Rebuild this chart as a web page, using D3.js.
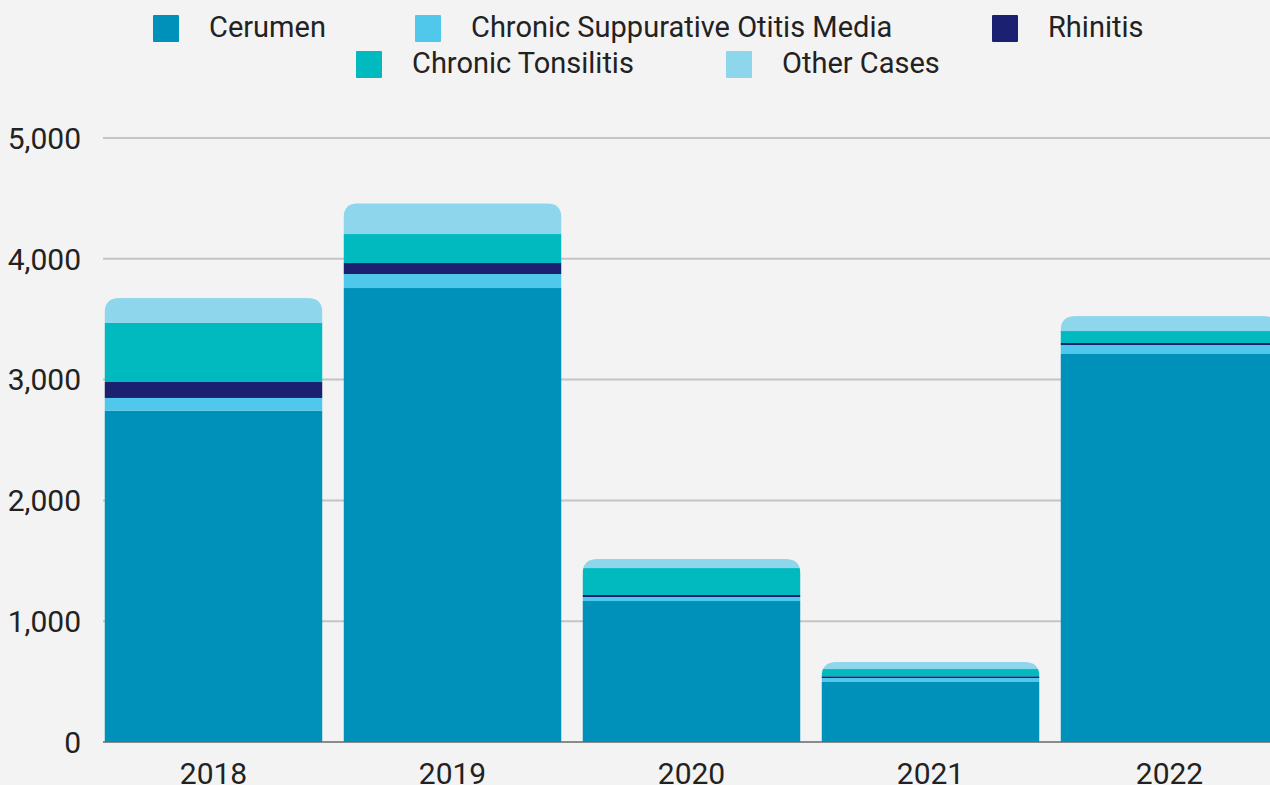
<!DOCTYPE html>
<html>
<head>
<meta charset="utf-8">
<script src="https://cdn.jsdelivr.net/npm/d3@7"></script>
<style>
  html, body { margin: 0; padding: 0; background: #f3f3f3; }
  svg { display: block; font-family: Roboto, "Noto Sans", sans-serif; }
</style>
</head>
<body>
<div id="chart"></div>
<script>
const width = 1270;
const height = 785;

// data
const years = ['2018', '2019', '2020', '2021', '2022'];
const seriesNames = ['Cerumen', 'Chronic Suppurative Otitis Media', 'Rhinitis', 'Chronic Tonsilitis', 'Other Cases'];
const cerumen = [2743, 3758, 1167, 497, 3212];
const csom = [105, 116, 33, 33, 74];
const rhinitis = [132, 91, 17, 14, 17];
const tonsilitis = [489, 240, 223, 60, 99];
const otherCases = [206, 254, 75, 58, 124];
const yTicks = [0, 1000, 2000, 3000, 4000, 5000];

const colors = ['#0091ba', '#50c8ec', '#1b2070', '#00bac0', '#8dd6ec'];

const allSeries = [cerumen, csom, rhinitis, tonsilitis, otherCases];
const table = years.map(function(y, i) {
  var row = { year: y };
  seriesNames.forEach(function(s, j) { row[s] = allSeries[j][i]; });
  return row;
});

const svg = d3.select('#chart').append('svg')
  .attr('width', width)
  .attr('height', height);

svg.append('rect').attr('width', width).attr('height', height).attr('fill', '#f3f3f3');

const x = d3.scaleBand()
  .domain(years)
  .range([94, 1289])
  .paddingInner(0.088)
  .paddingOuter(0.044);

const y = d3.scaleLinear()
  .domain([0, 5000])
  .range([742, 138]);

// gridlines
svg.append('g')
  .selectAll('line')
  .data(yTicks)
  .enter()
  .append('line')
  .attr('x1', 103)
  .attr('x2', width)
  .attr('y1', d => y(d))
  .attr('y2', d => y(d))
  .attr('stroke', d => d === 0 ? '#8a8a8a' : '#c4c4c4')
  .attr('stroke-width', 2);

// y labels
svg.append('g')
  .selectAll('text')
  .data(yTicks)
  .enter()
  .append('text')
  .attr('x', 81)
  .attr('y', d => y(d))
  .attr('dy', '0.36em')
  .attr('text-anchor', 'end')
  .attr('font-size', 30)
  .attr('fill', '#222')
  .text(d => d3.format(',')(d));

// x labels (cut at the bottom edge like the original)
svg.append('g')
  .selectAll('text')
  .data(years)
  .enter()
  .append('text')
  .attr('x', d => x(d) + x.bandwidth() / 2)
  .attr('y', 784)
  .attr('text-anchor', 'middle')
  .attr('font-size', 30)
  .attr('fill', '#222')
  .text(d => d);

const stacked = d3.stack().keys(seriesNames)(table);
const totals = table.map(r => d3.sum(seriesNames, s => r[s]));

// rounded top clip for each bar
const r = 15;
const defs = svg.append('defs');
years.forEach(function(yr, i) {
  var x0 = x(yr), w = x.bandwidth(), top = y(totals[i]), bot = y(0) + 1;
  defs.append('clipPath').attr('id', 'clip' + i)
    .append('path')
    .attr('d', 'M' + x0 + ',' + bot +
      'V' + (top + r) +
      'Q' + x0 + ',' + top + ' ' + (x0 + r) + ',' + top +
      'H' + (x0 + w - r) +
      'Q' + (x0 + w) + ',' + top + ' ' + (x0 + w) + ',' + (top + r) +
      'V' + bot + 'Z');
});

const bars = svg.append('g')
  .selectAll('g')
  .data(years)
  .enter()
  .append('g')
  .attr('clip-path', (d, i) => 'url(#clip' + i + ')');

bars.each(function(yr, i) {
  d3.select(this).selectAll('rect')
    .data(stacked)
    .enter()
    .append('rect')
    .attr('x', x(yr))
    .attr('width', x.bandwidth())
    .attr('y', s => y(s[i][1]))
    .attr('height', s => y(s[i][0]) - y(s[i][1]))
    .attr('fill', (s, j) => colors[j]);
});

// legend
const legendItems = [
  { name: seriesNames[0], c: colors[0], x: 153, y: 15 },
  { name: seriesNames[1], c: colors[1], x: 415, y: 15 },
  { name: seriesNames[2], c: colors[2], x: 992, y: 15 },
  { name: seriesNames[3], c: colors[3], x: 356, y: 51 },
  { name: seriesNames[4], c: colors[4], x: 726, y: 51 }
];
const legend = svg.append('g')
  .selectAll('g')
  .data(legendItems)
  .enter()
  .append('g');
legend.append('rect')
  .attr('x', d => d.x)
  .attr('y', d => d.y)
  .attr('width', 26)
  .attr('height', 27)
  .attr('rx', 1)
  .attr('fill', d => d.c);
legend.append('text')
  .attr('x', d => d.x + 56)
  .attr('y', d => d.y + 12)
  .attr('dy', '0.36em')
  .attr('font-size', 29)
  .attr('fill', '#222')
  .text(d => d.name);
</script>
</body>
</html>
